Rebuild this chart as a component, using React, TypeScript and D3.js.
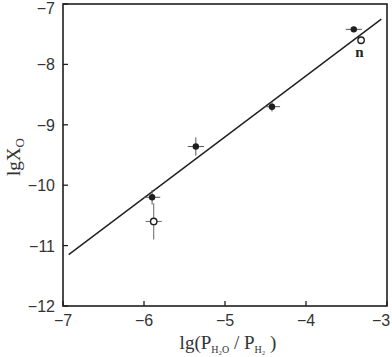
import React from "react";
import * as d3 from "d3";

const xTicks = [-7, -6, -5, -4, -3];
const yTicks = [-7, -8, -9, -10, -11, -12];

// filled points with horizontal / vertical error half-widths
const filledX = [-3.41, -4.42, -5.36, -5.9];
const filledY = [-7.42, -8.7, -9.36, -10.2];
const filledXErr = [0.1, 0.1, 0.1, 0.1];
const filledYErr = [0.02, 0.08, 0.15, 0.12];

// open points
const openX = [-5.88, -3.32];
const openY = [-10.6, -7.6];
const openXErr = [0.1, 0];
const openYErr = [0.3, 0];

const fitX = [-6.93, -3.07];
const fitY = [-11.15, -7.25];

export default function App() {
  const width = 392;
  const height = 357;
  const left = 63;
  const right = 387;
  const top = 4;
  const bottom = 306;
  const ink = "#1e1e1e";

  const x = d3.scaleLinear().domain([-7, -3]).range([left, right]);
  const y = d3.scaleLinear().domain([-12, -7]).range([bottom, top]);

  const line = d3.line<number>()
    .x((d, i) => x(fitX[i]))
    .y((d, i) => y(fitY[i]));

  const fmt = (v: number) => String(v).replace("-", "\u2212");

  return (
    <svg width={width} height={height} style={{ position: "absolute", left: 0, top: 0 }}>
      <rect width={width} height={height} fill="#fff" />
      <rect x={left} y={top} width={right - left} height={bottom - top} fill="none" stroke={ink} strokeWidth={1.6} />
      {xTicks.map((t) => (
        <g key={"x" + t}>
          <line x1={x(t)} x2={x(t)} y1={bottom} y2={bottom - 5} stroke={ink} strokeWidth={1.3} />
          <text x={Math.min(x(t), width - 11)} y={bottom + 20} textAnchor="middle" fontFamily="Liberation Sans, Arial, sans-serif" fontSize={16} fill="#333">{fmt(t)}</text>
        </g>
      ))}
      {yTicks.map((t) => (
        <g key={"y" + t}>
          <line x1={left} x2={left + 5} y1={y(t)} y2={y(t)} stroke={ink} strokeWidth={1.3} />
          <text x={left - 8} y={Math.max(y(t) + 6, 14)} textAnchor="end" fontFamily="Liberation Sans, Arial, sans-serif" fontSize={16} fill="#333">{fmt(t)}</text>
        </g>
      ))}
      <path d={line(fitX) || ""} fill="none" stroke={ink} strokeWidth={1.4} />
      {filledX.map((v, i) => (
        <g key={"f" + i} stroke="#555" strokeWidth={1}>
          <line x1={x(v - filledXErr[i])} x2={x(v + filledXErr[i])} y1={y(filledY[i])} y2={y(filledY[i])} />
          <line x1={x(v)} x2={x(v)} y1={y(filledY[i] - filledYErr[i])} y2={y(filledY[i] + filledYErr[i])} />
          <circle cx={x(v)} cy={y(filledY[i])} r={3.2} fill={ink} stroke="none" />
        </g>
      ))}
      {openX.map((v, i) => (
        <g key={"o" + i} stroke="#666" strokeWidth={1}>
          {openXErr[i] > 0 && <line x1={x(v - openXErr[i])} x2={x(v + openXErr[i])} y1={y(openY[i])} y2={y(openY[i])} />}
          {openYErr[i] > 0 && <line x1={x(v)} x2={x(v)} y1={y(openY[i] - openYErr[i])} y2={y(openY[i] + openYErr[i])} />}
          <circle cx={x(v)} cy={y(openY[i])} r={3.2} fill="#fff" stroke={ink} strokeWidth={1.4} />
        </g>
      ))}
      <text x={x(-3.34)} y={y(-7.88)} textAnchor="middle" fontFamily="Liberation Serif, serif" fontWeight="bold" fontSize={15} fill={ink}>n</text>
      <text transform={`translate(20,157) rotate(-90)`} textAnchor="middle" fontFamily="Liberation Serif, serif" fontSize={19} fill="#333">
        lgX<tspan fontSize={13} dy={4}>O</tspan>
      </text>
      <text x={228} y={349} textAnchor="middle" fontFamily="Liberation Serif, serif" fontSize={19} fill="#333">
        lg(P<tspan fontSize={10} dy={4}>H₂O</tspan><tspan dy={-4}> / P</tspan><tspan fontSize={10} dy={4}>H₂</tspan><tspan dy={-4}> )</tspan>
      </text>
    </svg>
  );
}
